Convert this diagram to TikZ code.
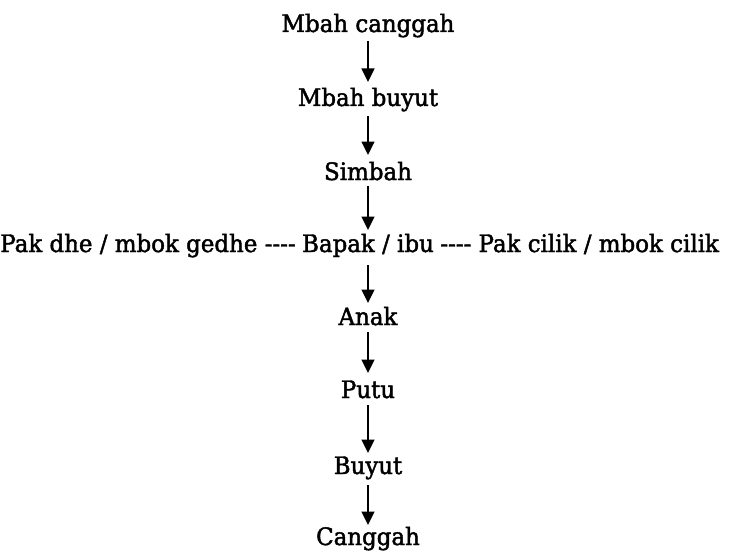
\documentclass[tikz,border=0pt]{standalone}
\usepackage{fontspec}
\setmainfont[Ligatures=TeXOff, FakeBold=1.8, FakeStretch=0.955]{DejaVu Serif}
\usetikzlibrary{arrows.meta}
\begin{document}
\begin{tikzpicture}[x=1pt,y=-1pt,
  lbl/.style={inner sep=0pt, anchor=base, font=\fontsize{24}{29}\selectfont},
  arr/.style={line width=2.7pt, -{Triangle[length=13.5pt,width=12.5pt]}}]
\useasboundingbox (0,0) rectangle (729,551);
% ancestors and descendants along the main line
\node[lbl] (mcanggah) at (368,32)  {Mbah canggah};
\node[lbl] (mbuyut)   at (368,106) {Mbah buyut};
\node[lbl] (simbah)   at (368,180) {Simbah};
\node[lbl] (bapak)    at (368,252) {Bapak / ibu};
\node[lbl] (anak)     at (368,325) {Anak};
\node[lbl] (putu)     at (368,398) {Putu};
\node[lbl] (buyut)    at (368,474) {Buyut};
\node[lbl] (canggah)  at (368,545) {Canggah};
% siblings of the parents
\node[lbl, anchor=base east] (pakdhe)
  at ([xshift=-6pt]bapak.base west) {Pak dhe / mbok gedhe ----};
\node[lbl, anchor=base west] (pakcilik)
  at ([xshift=6pt]bapak.base east) {---- Pak cilik / mbok cilik};
% descent arrows
\draw[arr] ([yshift=-9pt]mcanggah.base) -- ([yshift=24pt]mbuyut.base);
\draw[arr] ([yshift=-10pt]mbuyut.base)  -- ([yshift=25pt]simbah.base);
\draw[arr] ([yshift=-6pt]simbah.base)   -- ([yshift=22pt]bapak.base);
\draw[arr] ([yshift=-13pt]bapak.base)   -- ([yshift=22pt]anak.base);
\draw[arr] ([yshift=-7pt]anak.base)     -- ([yshift=25pt]putu.base);
\draw[arr] ([yshift=-7pt]putu.base)     -- ([yshift=21pt]buyut.base);
\draw[arr] ([yshift=-11pt]buyut.base)   -- ([yshift=20pt]canggah.base);
\end{tikzpicture}
\end{document}
